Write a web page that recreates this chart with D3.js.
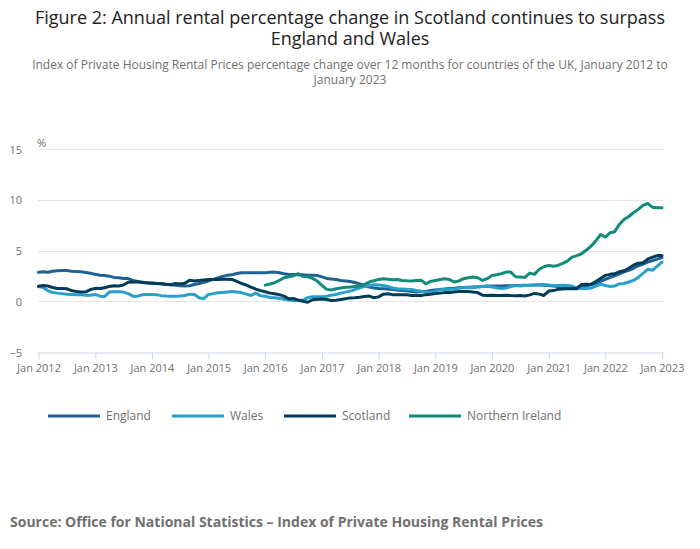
<!DOCTYPE html>
<html><head><meta charset="utf-8">
<script src="https://cdn.jsdelivr.net/npm/d3@7"></script>
<style>
html,body{margin:0;padding:0;background:#fff;}
svg{display:block;font-family:"Open Sans",sans-serif;}
</style></head>
<body>
<svg id="chart" width="700" height="549"></svg>
<script>
const seriesNames = ["England","Wales","Scotland","Northern Ireland"];
const seriesColors = ["#206095","#27a0cc","#003c57","#118c7b"];
const startYear = 2012, startMonth = 0;
const yTicks = [-5,0,5,10,15];
const xTickYears = [2012,2013,2014,2015,2016,2017,2018,2019,2020,2021,2022,2023];

const england = [2.9,2.95,2.9,3.0,3.05,3.08,3.08,3.0,2.98,2.95,2.88,2.8,
2.7,2.62,2.58,2.52,2.4,2.36,2.3,2.28,2.1,2.0,1.9,1.88,
1.85,1.8,1.78,1.72,1.68,1.63,1.58,1.55,1.58,1.7,1.8,1.92,
2.05,2.2,2.35,2.5,2.6,2.65,2.78,2.86,2.86,2.85,2.85,2.86,
2.85,2.9,2.92,2.85,2.75,2.68,2.68,2.65,2.66,2.6,2.6,2.58,
2.45,2.3,2.25,2.2,2.1,2.05,2.0,1.9,1.75,1.6,1.45,1.35,
1.3,1.28,1.25,1.2,1.15,1.12,1.08,1.0,0.98,1.0,1.02,1.1,
1.15,1.2,1.25,1.3,1.32,1.38,1.4,1.42,1.45,1.48,1.5,1.52,
1.55,1.55,1.56,1.58,1.58,1.6,1.6,1.62,1.62,1.65,1.65,1.62,
1.6,1.55,1.5,1.45,1.42,1.4,1.42,1.48,1.55,1.7,1.85,2.0,
2.2,2.4,2.55,2.75,2.95,3.1,3.3,3.55,3.7,3.9,4.05,4.2,
4.35];
const wales = [1.5,1.4,1.1,0.9,0.85,0.8,0.75,0.72,0.7,0.7,0.65,0.65,
0.72,0.55,0.5,0.95,0.98,0.98,0.95,0.8,0.55,0.55,0.69,0.72,
0.72,0.7,0.6,0.56,0.55,0.53,0.56,0.62,0.75,0.72,0.4,0.3,
0.72,0.8,0.88,0.92,0.95,1.0,0.95,0.9,0.75,0.62,0.85,0.6,
0.55,0.42,0.4,0.35,0.25,0.18,0.13,0.15,0.16,0.4,0.49,0.5,
0.5,0.55,0.65,0.72,0.85,0.95,1.05,1.2,1.38,1.5,1.6,1.68,
1.65,1.6,1.5,1.35,1.28,1.25,1.22,1.2,1.1,1.05,0.95,0.92,
1.05,1.18,1.2,1.22,1.25,1.35,1.38,1.4,1.41,1.45,1.5,1.58,
1.45,1.38,1.3,1.35,1.5,1.6,1.55,1.6,1.62,1.65,1.7,1.7,
1.65,1.58,1.6,1.62,1.6,1.55,1.35,1.3,1.3,1.35,1.55,1.72,
1.6,1.5,1.55,1.75,1.8,1.95,2.1,2.4,2.8,3.2,3.1,3.5,
3.9];
const scotland = [1.52,1.6,1.55,1.4,1.3,1.3,1.28,1.1,1.0,0.95,0.98,1.2,
1.32,1.3,1.38,1.5,1.58,1.55,1.65,1.92,1.94,1.94,1.92,1.85,
1.82,1.8,1.78,1.72,1.68,1.8,1.75,1.82,2.13,2.05,2.1,2.15,
2.2,2.2,2.2,2.22,2.22,2.2,2.0,1.8,1.65,1.45,1.25,1.1,
0.98,0.85,0.78,0.7,0.55,0.3,0.32,0.15,0.05,-0.05,0.2,0.25,
0.28,0.22,0.13,0.15,0.22,0.3,0.38,0.4,0.45,0.52,0.56,0.4,
0.48,0.75,0.78,0.7,0.69,0.7,0.68,0.62,0.65,0.62,0.7,0.75,
0.8,0.85,0.9,0.92,0.95,1.0,1.02,1.02,0.95,0.9,0.65,0.62,
0.65,0.62,0.62,0.65,0.62,0.6,0.62,0.56,0.68,0.82,0.75,0.62,
1.05,1.1,1.22,1.25,1.28,1.3,1.28,1.7,1.72,1.71,2.0,2.3,
2.6,2.7,2.75,2.95,3.05,3.3,3.6,3.8,3.85,4.2,4.4,4.55,
4.55];
// Northern Ireland series begins January 2016 (index 48)
const niStartIndex = 48;
const northernIreland = [1.64,1.75,1.87,2.1,2.36,2.45,2.55,2.76,2.5,2.45,2.3,2.04,
1.6,1.22,1.15,1.28,1.35,1.42,1.44,1.5,1.54,1.7,1.94,2.07,
2.2,2.27,2.22,2.17,2.2,2.1,2.07,2.05,2.1,2.13,1.77,2.0,
2.1,2.2,2.27,2.2,1.94,2.04,2.27,2.36,2.43,2.36,2.1,2.27,
2.59,2.66,2.76,2.92,2.92,2.46,2.45,2.4,2.82,2.7,3.2,3.45,
3.58,3.5,3.58,3.78,4.0,4.4,4.55,4.73,5.1,5.48,6.0,6.63,
6.37,6.8,6.9,7.6,8.11,8.4,8.77,9.1,9.5,9.69,9.3,9.26,
9.26];

const monthDate = i => new Date(startYear, startMonth + i, 1);
const toPoints = (arr, offset) => arr.map((v,i)=>({d:monthDate(i+offset), v}));
const series = [
  {name:seriesNames[0], color:seriesColors[0], pts:toPoints(england,0)},
  {name:seriesNames[1], color:seriesColors[1], pts:toPoints(wales,0)},
  {name:seriesNames[2], color:seriesColors[2], pts:toPoints(scotland,0)},
  {name:seriesNames[3], color:seriesColors[3], pts:toPoints(northernIreland,niStartIndex)}
];

const svg = d3.select("#chart");
const x = d3.scaleTime().domain([new Date(2012,0,1), new Date(2023,0,1)]).range([38.5, 662]);
const y = d3.scaleLinear().domain([-5,15]).range([352.5,149.5]);

// Title
const title = svg.append("g").attr("fill","#222").attr("font-size",18).attr("text-anchor","middle");
title.append("text").attr("x",350).attr("y",24).text("Figure 2: Annual rental percentage change in Scotland continues to surpass");
title.append("text").attr("x",350).attr("y",45).text("England and Wales");
const sub = svg.append("g").attr("fill","#707070").attr("font-size",12).attr("text-anchor","middle");
sub.append("text").attr("x",350).attr("y",69).text("Index of Private Housing Rental Prices percentage change over 12 months for countries of the UK, January 2012 to");
sub.append("text").attr("x",350).attr("y",84).text("January 2023");

// Gridlines
svg.append("g").selectAll("line").data(yTicks.filter(t=>t!==-5)).join("line")
  .attr("x1",38).attr("x2",664).attr("y1",d=>y(d)).attr("y2",d=>y(d))
  .attr("stroke","#e6e6e6").attr("stroke-width",1).attr("shape-rendering","crispEdges");

// Y axis labels
const yAxis = d3.axisLeft(y).tickValues(yTicks).tickSize(0).tickPadding(0);
const yg = svg.append("g").attr("transform","translate(22,0)").call(yAxis);
yg.select(".domain").remove();
yg.selectAll("text").attr("fill","#707070").attr("font-size",11).attr("font-family","Open Sans, sans-serif").attr("dy","0.32em");
svg.append("text").attr("x",37).attr("y",147).attr("fill","#707070").attr("font-size",11).text("%");

// X axis
const xAxis = d3.axisBottom(x).tickValues(xTickYears.map(yr=>new Date(yr,0,1)))
  .tickFormat(d3.timeFormat("Jan %Y")).tickSize(7).tickSizeOuter(0).tickPadding(5);
const xg = svg.append("g").attr("transform",`translate(0,${y(-5)})`).call(xAxis);
xg.select(".domain").attr("stroke","#ccd6eb").attr("d","M38,0.5H664");
xg.selectAll(".tick line").attr("stroke","#ccd6eb");
xg.selectAll("text").attr("fill","#707070").attr("font-size",11).attr("font-family","Open Sans, sans-serif");

// Lines
const line = d3.line().x(p=>x(p.d)).y(p=>y(p.v));
svg.append("g").selectAll("path").data(series).join("path")
  .attr("d",s=>line(s.pts)).attr("fill","none").attr("stroke",s=>s.color)
  .attr("stroke-width",3).attr("stroke-linejoin","round").attr("stroke-linecap","round");

// Legend
const legendX = [48,172,284,409];
const lg = svg.append("g").selectAll("g").data(series).join("g")
  .attr("transform",(s,i)=>`translate(${legendX[i]},416)`);
lg.append("line").attr("x1",0).attr("x2",52).attr("y1",0).attr("y2",0).attr("stroke",s=>s.color).attr("stroke-width",3);
lg.append("text").attr("x",58).attr("y",0).attr("dy","0.35em").attr("fill","#707070").attr("font-size",12).text(s=>s.name);

// Source
svg.append("text").attr("x",10).attr("y",527).attr("fill","#707070").attr("font-size",14).attr("font-weight","bold")
  .text("Source: Office for National Statistics \u2013 Index of Private Housing Rental Prices");
</script>
</body></html>
